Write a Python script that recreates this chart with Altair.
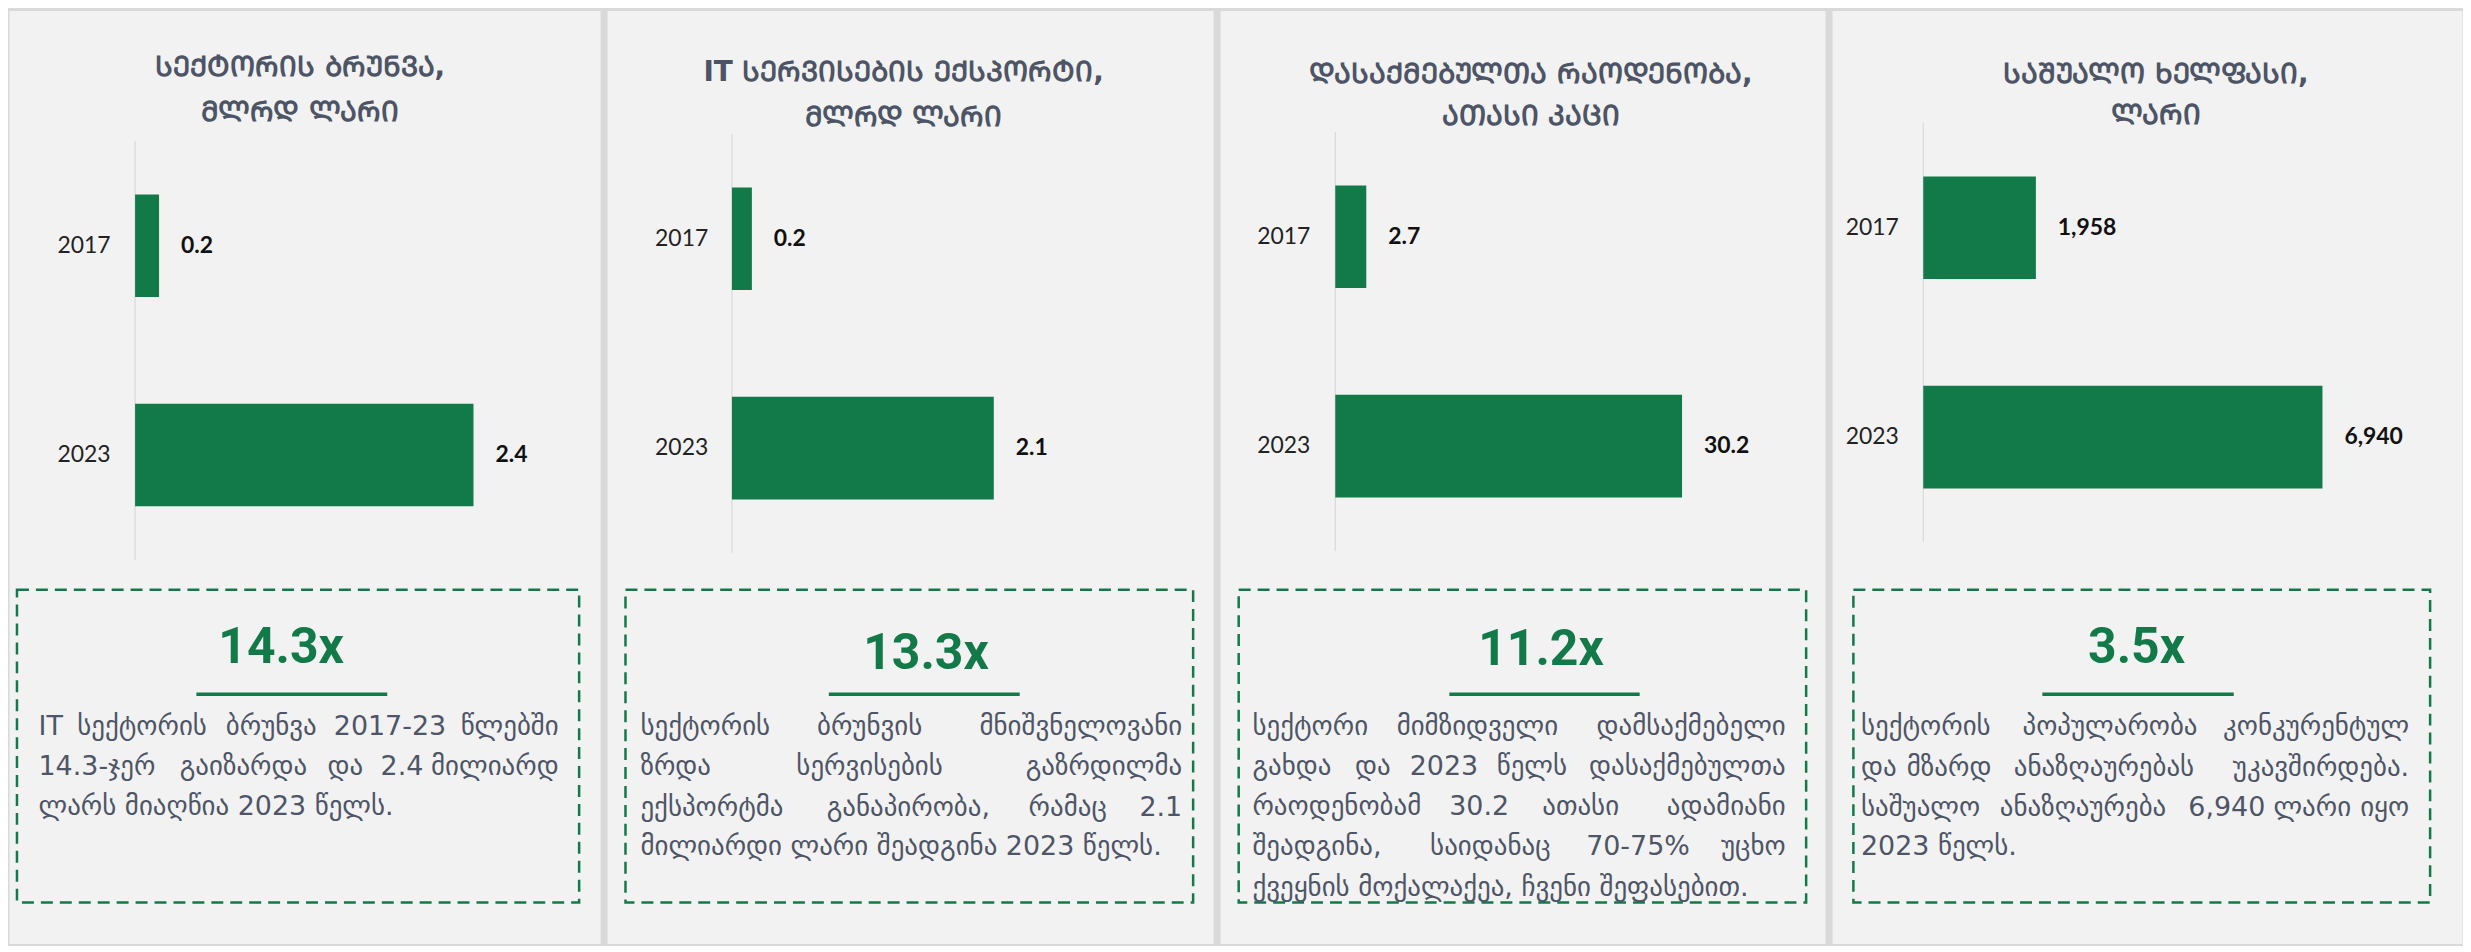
import altair as alt
import pandas as pd

# ---------------- data ----------------
years = ["2017", "2023"]
revenue = [0.17, 2.4]        # IT sector turnover, bn GEL
exports = [0.16, 2.1]        # IT services export, bn GEL
employees = [2.7, 30.2]      # employed, thousand people
salary = [1958, 6940]        # average salary, GEL

series = [revenue, exports, employees, salary]
formats = [",.1f", ",.1f", ",.1f", ",.0f"]

titles = [
    ["სექტორის ბრუნვა,", "მლრდ ლარი"],
    ["IT სერვისების ექსპორტი,", "მლრდ ლარი"],
    ["დასაქმებულთა რაოდენობა,", "ათასი კაცი"],
    ["საშუალო ხელფასი,", "ლარი"],
]
multipliers = ["14.3x", "13.3x", "11.2x", "3.5x"]
bodies = [
    ["IT სექტორის ბრუნვა 2017-23 წლებში",
     "14.3-ჯერ გაიზარდა და 2.4 მილიარდ",
     "ლარს მიაღწია 2023 წელს."],
    ["სექტორის ბრუნვის მნიშვნელოვანი",
     "ზრდა სერვისების გაზრდილმა",
     "ექსპორტმა განაპირობა, რამაც 2.1",
     "მილიარდი ლარი შეადგინა 2023 წელს."],
    ["სექტორი მიმზიდველი დამსაქმებელი",
     "გახდა და 2023 წელს დასაქმებულთა",
     "რაოდენობამ 30.2 ათასი ადამიანი",
     "შეადგინა, საიდანაც 70-75% უცხო",
     "ქვეყნის მოქალაქეა, ჩვენი შეფასებით."],
    ["სექტორის პოპულარობა კონკურენტულ",
     "და მზარდ ანაზღაურებას უკავშირდება.",
     "საშუალო ანაზღაურება 6,940 ლარი იყო",
     "2023 წელს."],
]

# ---------------- styling / layout ----------------
GREEN = "#127a49"
TITLE_C = "#4c5466"
BODY_C = "#4e5567"
PANEL_BG = "#f2f2f2"
SEP_C = "#d9d9d9"
BODY_FONT = "DejaVu Sans"
TITLE_FONT = "DejaVu Sans"
NUM_FONT = "Roboto"
LBL_FONT = "Lato"

H = 936
TOP = 8
P_LEFT = [8, 606, 1219, 1831]
P_W = [593, 608, 607, 632]

# layout per panel in page pixels
L = [
    dict(tx=300, ty=(66, 111), ax=134.5, axy=(139, 559), xend=474, yr=110,
         box=(16, 580, 589, 903), big=(281, 648), ul=(196, 387.5, 694),
         by=[727, 767, 807], bx=(37.6, 559.5)),
    dict(tx=903.5, ty=(71, 116), ax=731.3, axy=(132, 552), xend=994, yr=707.5,
         box=(624.5, 1194, 589, 903), big=(926, 654), ul=(828.5, 1020, 694),
         by=[727, 767, 808, 847], bx=(639.5, 1183)),
    dict(tx=1531, ty=(73, 115), ax=1334.6, axy=(130, 550), xend=1682.5, yr=1309.6,
         box=(1237.7, 1807, 589, 903), big=(1541, 650), ul=(1449, 1640, 694),
         by=[727, 767, 807, 847, 888], bx=(1251.5, 1786.5)),
    dict(tx=2156, ty=(73, 114), ax=1922.5, axy=(121, 541), xend=2323, yr=1898,
         box=(1852.4, 2431, 589, 903), big=(2136.5, 648), ul=(2042, 2234, 694),
         by=[727, 768, 808, 847], bx=(1860, 2410)),
]

ONE = alt.Data(values=[{"a": 1}])

CW = {" ": 0.318, ".": 0.318, ",": 0.318, "-": 0.361, "%": 0.95, "I": 0.295, "T": 0.611}
GEO = 0.62
BODY_SIZE = 27


def est(word, size):
    w = 0.0
    for c in word:
        if c.isdigit():
            w += 0.636
        elif c in CW:
            w += CW[c]
        else:
            w += GEO
    return w * size


def mtav(s):
    return "".join(chr(ord(c) + 0xBC0) if 0x10D0 <= ord(c) <= 0x10FA else c for c in s)


def txt(s, x, y, size, color, weight="normal", font=BODY_FONT, align="left"):
    return alt.Chart(ONE).mark_text(
        fontSize=size, color=color, fontWeight=weight, font=font,
        align=align, baseline="middle"
    ).encode(x=alt.value(x), y=alt.value(y), text=alt.value(s))


def panel(i):
    cfg = L[i]
    ox = P_LEFT[i]
    lx = lambda v: v - ox
    ly = lambda v: v - TOP
    df = pd.DataFrame({"year": years, "value": series[i]})
    mx = max(series[i])
    xs = alt.Scale(domain=[0, mx], range=[lx(cfg["ax"]), lx(cfg["xend"])], nice=False, zero=True)
    ys = alt.Scale(range=[ly(cfg["axy"][0]), ly(cfg["axy"][1])], paddingInner=0.51, paddingOuter=0.255)

    base = alt.Chart(df).encode(
        x=alt.X("value:Q", scale=xs, axis=None),
        y=alt.Y("year:N", scale=ys, axis=None),
    )
    bars = base.mark_bar(color=GREEN)
    vals = base.mark_text(align="left", baseline="middle", dx=22, fontSize=23,
                          fontWeight="bold", font=LBL_FONT, color="#111111").encode(
        text=alt.Text("value:Q", format=formats[i]))
    yrs = alt.Chart(df).mark_text(align="right", baseline="middle", fontSize=23,
                                  font=LBL_FONT, color="#222222").encode(
        x=alt.value(lx(cfg["yr"])), y=alt.Y("year:N", scale=ys, axis=None), text="year:N")
    axis_line = alt.Chart(ONE).mark_rule(color="#d4d4d4", strokeWidth=1).encode(
        x=alt.value(lx(cfg["ax"])), y=alt.value(ly(cfg["axy"][0])), y2=alt.value(ly(cfg["axy"][1])))

    layers = [axis_line, bars, vals, yrs]
    for k, t in enumerate(titles[i]):
        layers.append(txt(mtav(t), lx(cfg["tx"]), ly(cfg["ty"][k]), 28, TITLE_C, "bold",
                          TITLE_FONT, "center"))
    b = cfg["box"]
    layers.append(alt.Chart(ONE).mark_rect(fill="transparent", stroke=GREEN, strokeWidth=2.5,
                                           strokeDash=[12, 7]).encode(
        x=alt.value(lx(b[0])), x2=alt.value(lx(b[1])), y=alt.value(ly(b[2])), y2=alt.value(ly(b[3]))))
    layers.append(txt(multipliers[i], lx(cfg["big"][0]), ly(cfg["big"][1]), 50, GREEN, "bold",
                      NUM_FONT, "center"))
    u = cfg["ul"]
    layers.append(alt.Chart(ONE).mark_rule(color=GREEN, strokeWidth=3.5).encode(
        x=alt.value(lx(u[0])), x2=alt.value(lx(u[1])), y=alt.value(ly(u[2]))))

    left, right = cfg["bx"]
    lines = bodies[i]
    for k, line in enumerate(lines):
        y = ly(cfg["by"][k])
        words = line.split(" ")
        if k == len(lines) - 1 or len(words) < 2:
            layers.append(txt(line, lx(left), y, BODY_SIZE, BODY_C))
            continue
        widths = [est(w, BODY_SIZE) for w in words]
        gap = (right - left - sum(widths)) / (len(words) - 1)
        pos = left
        for j, w in enumerate(words):
            if j == 0:
                layers.append(txt(w, lx(left), y, BODY_SIZE, BODY_C))
            elif j == len(words) - 1:
                layers.append(txt(w, lx(right), y, BODY_SIZE, BODY_C, align="right"))
            else:
                layers.append(txt(w, lx(pos + widths[j] / 2), y, BODY_SIZE, BODY_C, align="center"))
            pos += widths[j] + gap

    return alt.layer(*layers).properties(width=P_W[i], height=H)


chart = alt.hconcat(*[panel(i) for i in range(4)], spacing=5).properties(
    padding=0, background=SEP_C
).configure_view(fill=PANEL_BG, stroke="transparent")

chart.save("out.html", embed_options={"renderer": "svg", "actions": False})
